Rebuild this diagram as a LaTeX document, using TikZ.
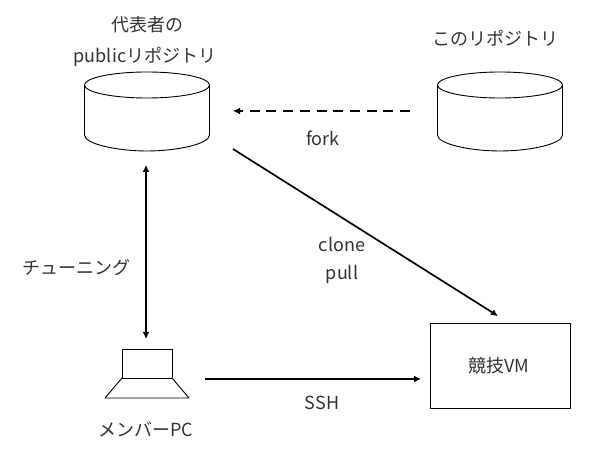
\documentclass[tikz,border=0pt]{standalone}
\usepackage{fontspec}
\setmainfont{Noto Sans CJK JP}[Scale=1]
\usetikzlibrary{arrows.meta}
\tikzset{
  x=1pt,y=-1pt,
  outline/.style={draw=black,line width=0.9pt,line join=round},
  conn/.style={draw=black,line width=1.7pt,-{Latex[length=7pt,width=7pt]}},
  biconn/.style={draw=black,line width=1.7pt,{Latex[length=7pt,width=7pt]}-{Latex[length=7pt,width=7pt]}},
  dashconn/.style={conn,dash pattern=on 10pt off 6.7pt},
  lbl/.style={inner sep=0pt,font=\fontsize{18}{24}\selectfont,text=black!80,align=center},
  vmbox/.style={outline,fill=white,minimum width=140pt,minimum height=85pt,inner sep=0pt,anchor=north west}
}
\newcommand{\repocyl}[2]{%
  \draw[outline] (#1-62.5,85) arc[start angle=180,end angle=540,x radius=62.5,y radius=13]
    (#1-62.5,85) -- (#1-62.5,135) .. controls (#1-62.5,144) and (#1-30,151) .. (#1,151)
    .. controls (#1+30,151) and (#1+62.5,144) .. (#1+62.5,135) -- (#1+62.5,85);
  \coordinate (#2) at (#1,111);
}
\begin{document}
\begin{tikzpicture}
\useasboundingbox (0,0) rectangle (600,454);
\repocyl{147}{repoA}
\repocyl{500}{repoB}
\node[vmbox] (vm) at (430,323) {};
\node[lbl] (vmlabel) at (499,366) {競技VM};
\draw[outline] (122,349) rectangle (172,378);
\draw[outline] (122,378) -- (105,398) -- (189,398) -- (172,378);
\node[lbl] (t1) at (147,25) {代表者の};
\node[lbl] (t2) at (145,57) {publicリポジトリ};
\node[lbl] (t3) at (495,38) {このリポジトリ};
\node[lbl] (t4) at (76,268) {チューニング};
\node[lbl] (t5) at (146,429) {メンバーPC};
\node[lbl] (t6) at (323,138) {fork};
\node[lbl] (t7) at (342,244) {clone};
\node[lbl] (t8) at (342,274) {pull};
\node[lbl] (t9) at (322,403) {SSH};
\coordinate (forkS) at (410,111);
\coordinate (forkE) at (233,111);
\coordinate (cloneS) at (233,149);
\coordinate (cloneE) at (498,316);
\coordinate (tuneA) at (146,165);
\coordinate (tuneB) at (146,339);
\coordinate (sshS) at (205,379);
\coordinate (sshE) at (421,379);
\draw[dashconn] (forkS) -- (forkE);
\draw[conn] (cloneS) -- (cloneE);
\draw[biconn] (tuneA) -- (tuneB);
\draw[conn] (sshS) -- (sshE);
\end{tikzpicture}
\end{document}
